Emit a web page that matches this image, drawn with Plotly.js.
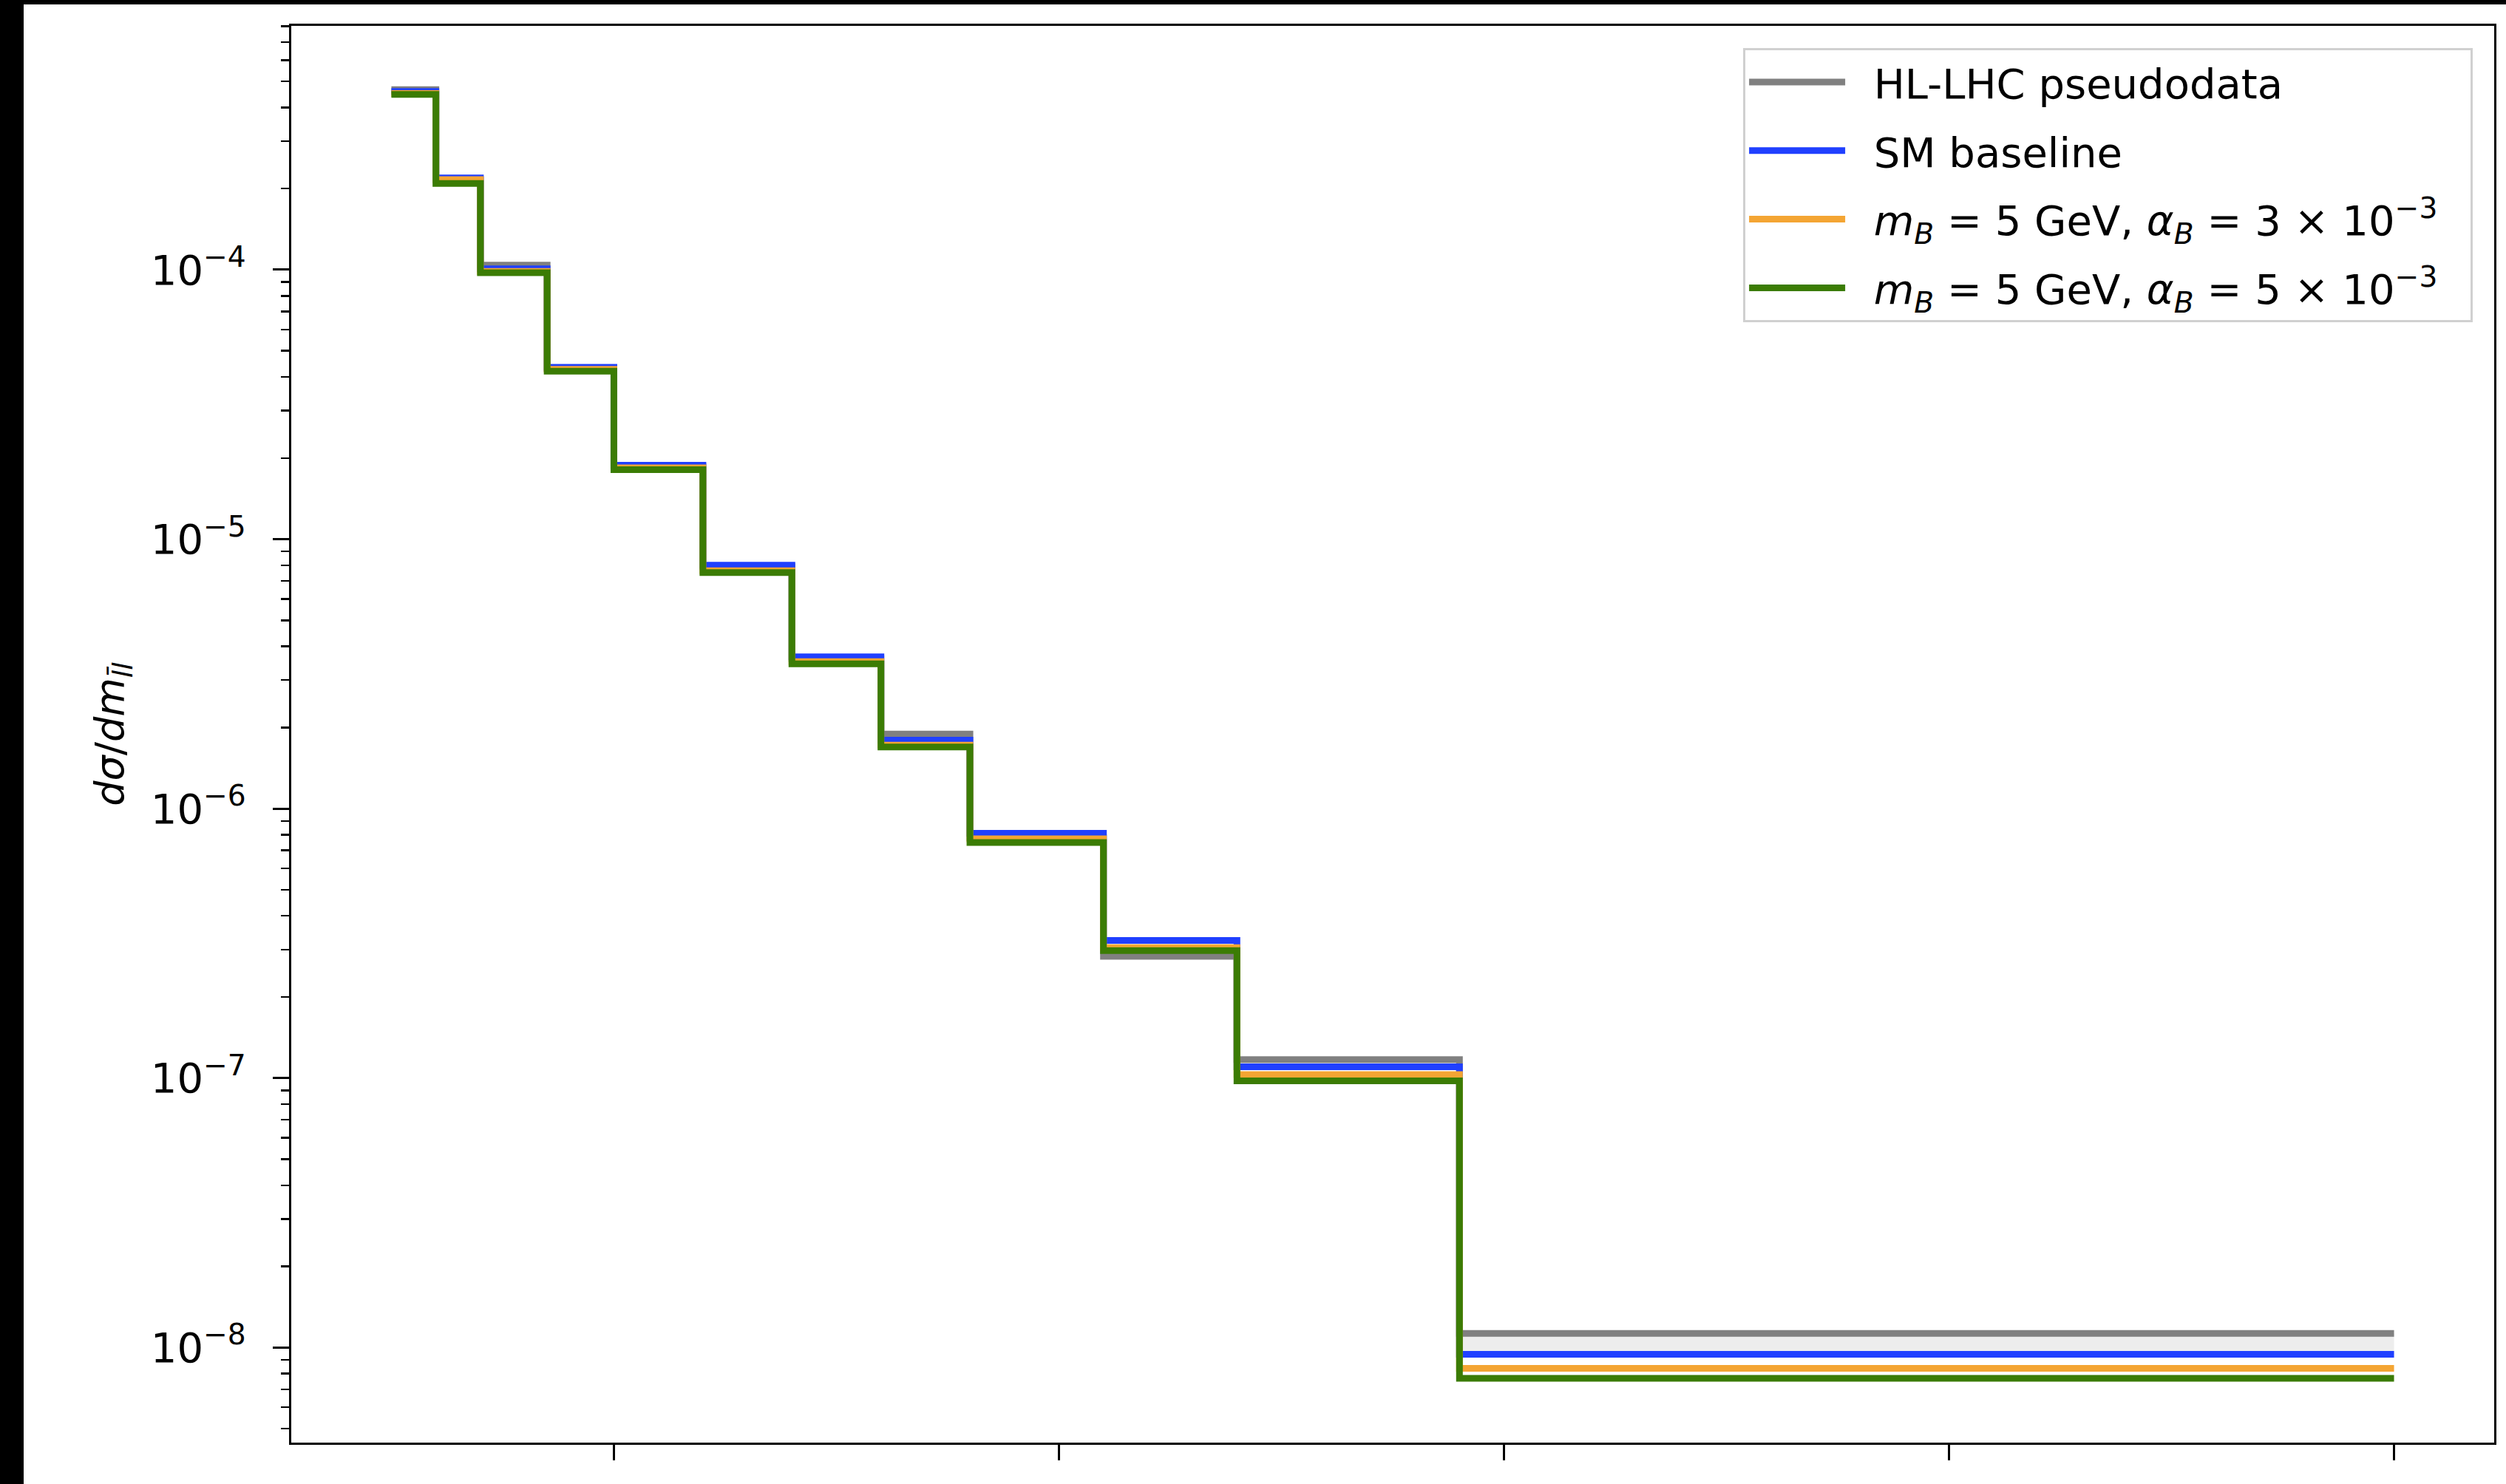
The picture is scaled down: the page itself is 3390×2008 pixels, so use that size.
<!DOCTYPE html>
<html>
<head>
<meta charset="utf-8">
<script src="https://cdn.plot.ly/plotly-3.0.1.min.js"></script>
<style>
  html, body { margin: 0; padding: 0; background: #000; width: 3390px; height: 2008px; overflow: hidden; }
  #plot { position: absolute; left: 32px; top: 6px; width: 3358px; height: 2002px; background: #fff; }
</style>
</head>
<body>
<div id="plot"></div>
<script>
// Dilepton invariant-mass bin edges (GeV)
const binEdges = [500, 600, 700, 850, 1000, 1200, 1400, 1600, 1800, 2100, 2400, 2900, 5000];

// dσ/dm_ll per bin
const pseudodata = [4.66e-4, 2.16e-4, 1.04e-4, 4.30e-5, 1.86e-5, 7.9e-6, 3.6e-6, 1.89e-6, 7.8e-7, 2.83e-7, 1.17e-7, 1.128e-8];
const smBaseline = [4.59e-4, 2.19e-4, 1.007e-4, 4.34e-5, 1.88e-5, 8.00e-6, 3.66e-6, 1.795e-6, 8.10e-7, 3.24e-7, 1.10e-7, 9.44e-9];
const bsmAlpha3 = [4.51e-4, 2.16e-4, 9.86e-5, 4.27e-5, 1.84e-5, 7.64e-6, 3.51e-6, 1.72e-6, 7.73e-7, 3.05e-7, 1.03e-7, 8.37e-9];
const bsmAlpha5 = [4.47e-4, 2.09e-4, 9.74e-5, 4.20e-5, 1.81e-5, 7.52e-6, 3.445e-6, 1.692e-6, 7.49e-7, 2.97e-7, 9.77e-8, 7.68e-9];

// Tick positions and labels
const xTickVals = [1000, 2000, 3000, 4000, 5000];
const yDecades = [-9, -8, -7, -6, -5, -4, -3];
const yTickVals = [1e-8, 1e-7, 1e-6, 1e-5, 1e-4];
const yTickText = ['10<sup>−8</sup>', '10<sup>−7</sup>', '10<sup>−6</sup>', '10<sup>−5</sup>', '10<sup>−4</sup>'];
const minorMultipliers = [2, 3, 4, 5, 6, 7, 8, 9];

// Legend labels
const seriesNames = [
  'HL-LHC pseudodata',
  'SM baseline',
  '<i>m</i><sub><i>B</i></sub> = 5 GeV, <i>α</i><sub><i>B</i></sub> = 3 × 10<sup>−3</sup>',
  '<i>m</i><sub><i>B</i></sub> = 5 GeV, <i>α</i><sub><i>B</i></sub> = 5 × 10<sup>−3</sup>'
];

// Minor log ticks: 2..9 within every decade
const yMinorVals = [];
yDecades.forEach(d => minorMultipliers.forEach(m => yMinorVals.push(m * Math.pow(10, d))));

// Post-step: repeat the last bin value so the final bin gets its full width
const stepY = vals => vals.concat([vals[vals.length - 1]]);

const LW = 9;
const font = 'DejaVu Sans, Verdana, sans-serif';
const lead = '\u2002\u200a';
const tail = '\u2002\u2009';

function stepTrace(vals, name, color, group) {
  return {
    x: binEdges, y: stepY(vals), name: lead + name + tail, type: 'scatter', mode: 'lines',
    line: { shape: 'hv', color: color, width: LW },
    legendgroup: group, hoverinfo: 'skip'
  };
}

const traces = [
  // shaded region between the SM baseline and the pseudodata
  { x: binEdges, y: stepY(smBaseline), type: 'scatter', mode: 'lines',
    line: { shape: 'hv', width: 0, color: 'rgba(0,0,0,0)' }, showlegend: false, hoverinfo: 'skip' },
  { x: binEdges, y: stepY(pseudodata), type: 'scatter', mode: 'lines', fill: 'tonexty',
    fillcolor: 'rgba(215,215,215,0.45)',
    line: { shape: 'hv', width: 0, color: 'rgba(0,0,0,0)' }, showlegend: false, hoverinfo: 'skip' },
  stepTrace(pseudodata, seriesNames[0], '#808080', 'g1'),
  stepTrace(smBaseline, seriesNames[1], '#2040ff', 'g2'),
  stepTrace(bsmAlpha3, seriesNames[2], '#f4a533', 'g3'),
  stepTrace(bsmAlpha5, seriesNames[3], '#3b7c04', 'g4')
];

const layout = {
  width: 3358, height: 2002,
  margin: { l: 362, r: 16, t: 29, b: 56, pad: 0 },
  paper_bgcolor: '#fff', plot_bgcolor: '#fff',
  font: { family: font, size: 56, color: '#000' },
  showlegend: true,
  xaxis: {
    type: 'linear', range: [275, 5225],
    tickvals: xTickVals, showticklabels: false,
    ticks: 'outside', ticklen: 21, tickwidth: 3, tickcolor: '#000',
    showline: true, linewidth: 3, linecolor: '#000', mirror: true,
    showgrid: false, zeroline: false, automargin: false
  },
  yaxis: {
    type: 'log', range: [-8.353, -3.095],
    tickmode: 'array', tickvals: yTickVals, ticktext: yTickText,
    ticks: 'outside', ticklen: 22, tickwidth: 3, tickcolor: '#000',
    ticklabelstandoff: 25,
    minor: { tickmode: 'array', tickvals: yMinorVals, ticks: 'outside', ticklen: 11, tickwidth: 2.5, tickcolor: '#000', showgrid: false },
    tickfont: { family: font, size: 56 },
    showline: true, linewidth: 3, linecolor: '#000', mirror: true,
    showgrid: false, zeroline: false, automargin: false,
    title: { text: '<i>dσ</i>/<i>dm</i><sub><i>l\u0304l</i></sub>', font: { family: font, size: 54 }, standoff: 19 }
  },
  legend: {
    x: 0.9903, y: 0.9843, xanchor: 'right', yanchor: 'top',
    bgcolor: 'rgba(255,255,255,0.85)', bordercolor: '#d0d0d0', borderwidth: 3,
    font: { family: font, size: 56, color: '#000' },
    itemwidth: 130, tracegroupgap: 17
  }
};

Plotly.newPlot('plot', traces, layout, { displayModeBar: false, staticPlot: true });
</script>
</body>
</html>
